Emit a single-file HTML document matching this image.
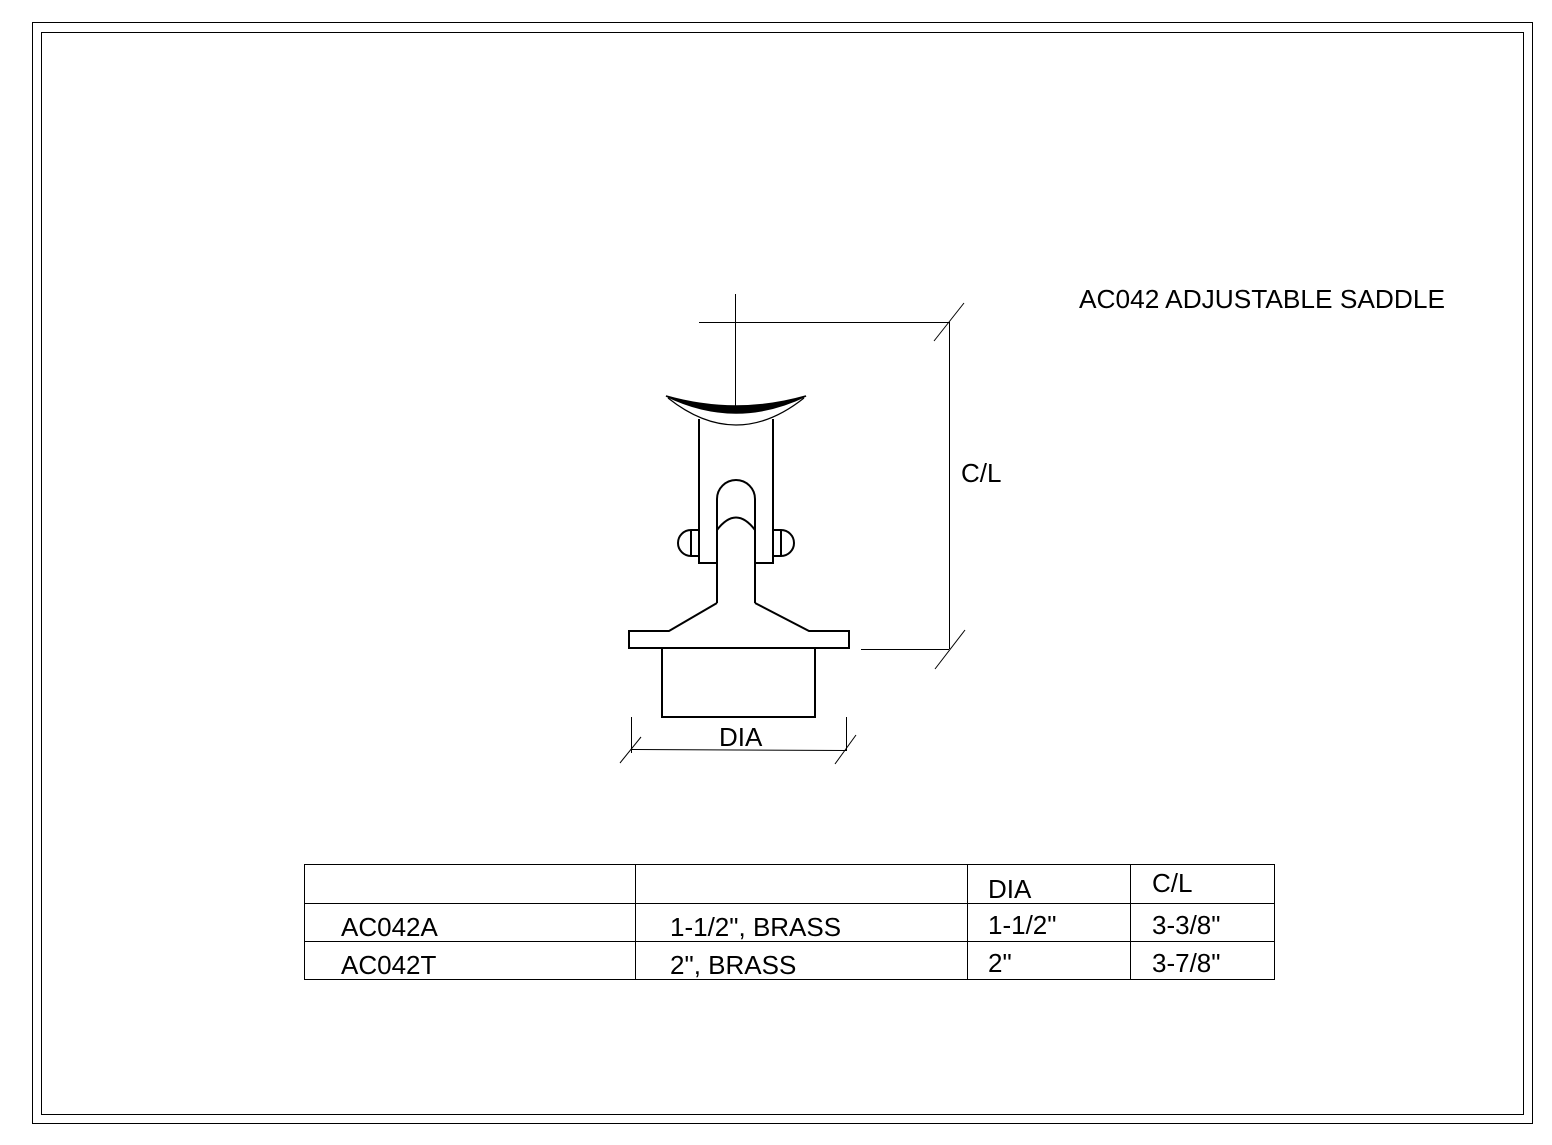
<!DOCTYPE html>
<html><head><style>
html,body{margin:0;padding:0;background:#fff;}
svg{display:block;}
text{font-family:"Liberation Sans",sans-serif;fill:#000;}
</style></head><body>
<svg width="1552" height="1145" viewBox="0 0 1552 1145" xmlns="http://www.w3.org/2000/svg">
<rect x="32.5" y="22.5" width="1500" height="1101" fill="none" stroke="#000" stroke-width="1"/>
<rect x="41.5" y="32.5" width="1482" height="1082" fill="none" stroke="#000" stroke-width="1"/>
<text x="1079" y="308" font-size="26" textLength="366" lengthAdjust="spacingAndGlyphs">AC042 ADJUSTABLE SADDLE</text>
<g stroke="#000" fill="none" stroke-width="1">
<line x1="735.5" y1="294" x2="735.5" y2="406"/>
<line x1="699" y1="322.5" x2="949" y2="322.5"/>
<line x1="949.5" y1="322" x2="949.5" y2="649"/>
<line x1="934" y1="341" x2="964" y2="303"/>
<line x1="935" y1="669" x2="965" y2="630"/>
<line x1="861" y1="649.5" x2="949" y2="649.5"/>
<line x1="631.5" y1="717" x2="631.5" y2="753"/>
<line x1="846.5" y1="717" x2="846.5" y2="751"/>
<line x1="631" y1="749.5" x2="846" y2="750.5"/>
<line x1="620" y1="763" x2="641" y2="737"/>
<line x1="835" y1="764" x2="856" y2="735"/>
</g>
<text x="961" y="482" font-size="26">C/L</text>
<text x="719" y="746" font-size="26">DIA</text>
<g stroke="#000" stroke-width="2" fill="none">
<path d="M666,396 Q736,430 806,396 Q736,416 666,396 Z" fill="#000" stroke-width="1.5"/>
<path d="M668,398 Q736,452 804,398" stroke-width="1.2"/>
<path d="M699,419 V563 H717 M755,563 H773 V419"/>
<path d="M717,603 V499 A19,19 0 0 1 755,499 V603"/>
<path d="M717,530 Q736,505 755,530"/>
<path d="M717,603 L669,631 H629 V648 H849 V631 H809 L755,603"/>
<path d="M662,648 V717 H815 V648"/>
<path d="M691,530 A13,13 0 0 0 691,556 H699 V530 Z M691,530 V556"/>
<path d="M781,530 A13,13 0 0 1 781,556 H773 V530 Z M781,530 V556"/>
</g>
<g stroke="#000" stroke-width="1" fill="none">
<rect x="304.5" y="864.5" width="970" height="115"/>
<line x1="304" y1="903.5" x2="1274" y2="903.5"/>
<line x1="304" y1="941.5" x2="1274" y2="941.5"/>
<line x1="635.5" y1="864" x2="635.5" y2="979"/>
<line x1="967.5" y1="864" x2="967.5" y2="979"/>
<line x1="1130.5" y1="864" x2="1130.5" y2="979"/>
</g>
<g font-size="26">
<text x="988" y="898">DIA</text>
<text x="1152" y="892">C/L</text>
<text x="341" y="936">AC042A</text>
<text x="670" y="936">1-1/2", BRASS</text>
<text x="988" y="934">1-1/2"</text>
<text x="1152" y="934">3-3/8"</text>
<text x="341" y="974">AC042T</text>
<text x="670" y="974">2", BRASS</text>
<text x="988" y="972">2"</text>
<text x="1152" y="972">3-7/8"</text>
</g>
</svg>
</body></html>
